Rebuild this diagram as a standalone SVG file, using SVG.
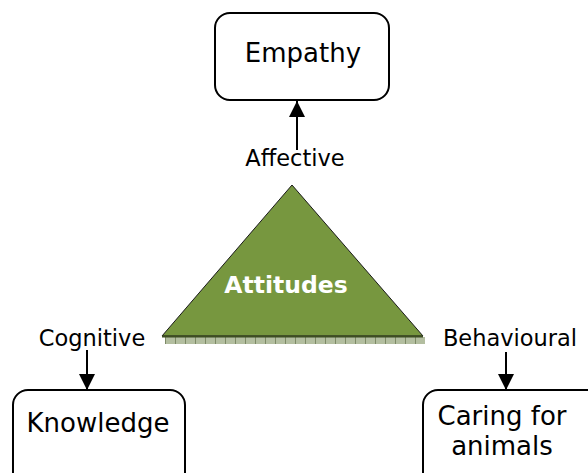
<svg xmlns="http://www.w3.org/2000/svg" width="588" height="473" viewBox="0 0 588 473">
<defs>
<style>
.box{fill:#fff;stroke:#000;stroke-width:2}
.lbl{font-family:"DejaVu Sans",Verdana,sans-serif;font-size:22.5px;fill:#000}
.txt{font-family:"DejaVu Sans",Verdana,sans-serif;font-size:26px;fill:#000}
.conn{stroke:#000;stroke-width:2;fill:none}
</style>
<marker id="ah" viewBox="0 0 16 16" refX="16" refY="8" markerWidth="16" markerHeight="16" markerUnits="userSpaceOnUse" orient="auto">
<path d="M0,0 L16,8 L0,16 Z" fill="#000"/>
</marker>
<pattern id="hatch" width="10" height="8" patternUnits="userSpaceOnUse" x="165" y="337">
<rect width="10" height="8" fill="#b3bea0"/>
<rect x="0" width="1" height="8" fill="#7d8a66"/>
</pattern>
</defs>
<g id="connectors">
<line class="conn" x1="297" y1="150" x2="297" y2="101" marker-end="url(#ah)"/>
<line class="conn" x1="87" y1="350" x2="87" y2="390" marker-end="url(#ah)"/>
<line class="conn" x1="506" y1="352" x2="506" y2="390" marker-end="url(#ah)"/>
</g>
<g id="attitudes">
<rect x="165" y="337" width="260" height="7" fill="url(#hatch)"/>
<polygon points="292,185 162,336 423,336" fill="#77973f" stroke="#1a1a1a" stroke-width="1"/>
<line x1="162" y1="336.5" x2="423" y2="336.5" stroke="#3d4d22" stroke-width="2"/>
<text x="286" y="293" text-anchor="middle" font-family="DejaVu Sans,Verdana,sans-serif" font-size="23.5" font-weight="bold" fill="#fff">Attitudes</text>
</g>
<g id="empathy">
<rect class="box" x="215" y="13" width="174" height="87" rx="15"/>
<text class="txt" x="303" y="62" text-anchor="middle">Empathy</text>
</g>
<g id="knowledge">
<rect class="box" x="13" y="390" width="172" height="100" rx="15"/>
<text class="txt" x="98" y="432" text-anchor="middle">Knowledge</text>
</g>
<g id="caring">
<rect class="box" x="423" y="390" width="180" height="100" rx="15"/>
<text class="txt" x="502" y="425" text-anchor="middle">Caring for</text>
<text class="txt" x="502" y="455" text-anchor="middle">animals</text>
</g>
<g id="labels">
<text class="lbl" x="295" y="166" text-anchor="middle">Affective</text>
<text class="lbl" x="92" y="346" text-anchor="middle">Cognitive</text>
<text class="lbl" x="510" y="346" text-anchor="middle">Behavioural</text>
</g>
</svg>
